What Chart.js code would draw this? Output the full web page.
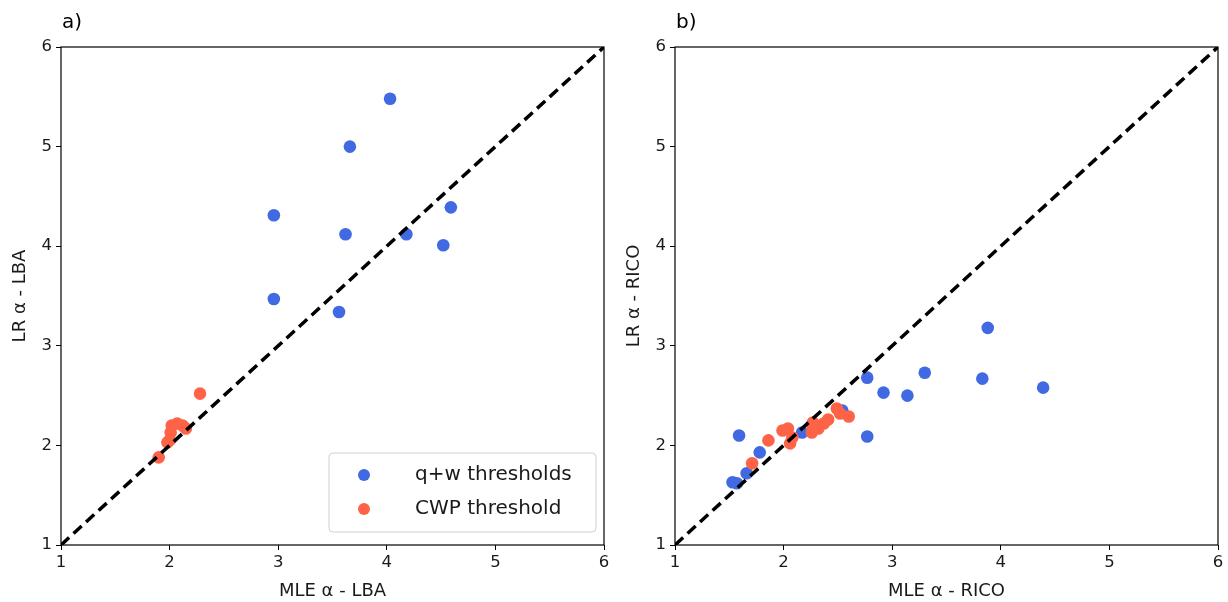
<!DOCTYPE html>
<html>
<head>
<meta charset="utf-8">
<script src="https://cdn.jsdelivr.net/npm/chart.js@4.4.1/dist/chart.umd.min.js"></script>
<style>
  html, body { margin: 0; padding: 0; background: #fff; }
  #wrap { width: 1228px; height: 602px; display: flex; }
  .box { position: relative; width: 614px; height: 602px; }
</style>
</head>
<body>
<div id="wrap">
  <div class="box"><canvas id="chartA"></canvas></div>
  <div class="box"><canvas id="chartB"></canvas></div>
</div>
<script>
// panel a) LBA
const lbaQwX = [4.03, 3.66, 2.96, 3.62, 4.18, 4.59, 4.52, 2.96, 3.56];
const lbaQwY = [5.48, 5.00, 4.31, 4.12, 4.12, 4.39, 4.01, 3.47, 3.34];
const lbaCwpX = [2.28, 2.07, 2.02, 2.12, 2.15, 2.01, 2.00, 1.98, 1.90];
const lbaCwpY = [2.52, 2.22, 2.20, 2.20, 2.17, 2.13, 2.05, 2.03, 1.88];

// panel b) RICO
const ricoQwX = [3.88, 3.30, 3.83, 4.39, 2.77, 2.92, 3.14, 2.77, 1.59, 1.78, 2.17, 2.54, 1.66, 1.53, 1.57];
const ricoQwY = [3.18, 2.73, 2.67, 2.58, 2.68, 2.53, 2.50, 2.09, 2.10, 1.93, 2.13, 2.35, 1.72, 1.63, 1.62];
const ricoCwpX = [1.71, 1.86, 1.99, 2.04, 2.08, 2.06, 2.27, 2.26, 2.32, 2.37, 2.41, 2.49, 2.52, 2.60, 2.27];
const ricoCwpY = [1.82, 2.05, 2.15, 2.17, 2.08, 2.02, 2.23, 2.13, 2.17, 2.22, 2.26, 2.37, 2.32, 2.29, 2.18];

const axisTicks = [1, 2, 3, 4, 5, 6];
const seriesNames = ["q+w thresholds", "CWP threshold"];
const blue = "#4169e1";
const orange = "#ff6347";
const FONT = "'DejaVu Sans', sans-serif";

const toPoints = (xs, ys) => xs.map((x, i) => ({ x: x, y: ys[i] }));

// frame + panel letter + optional legend
const decor = {
  id: "decor",
  afterDraw(chart, args, opts) {
    const { ctx, chartArea: a } = chart;
    ctx.save();
    ctx.strokeStyle = "#000";
    ctx.lineWidth = 1.2;
    ctx.strokeRect(a.left, a.top, a.right - a.left, a.bottom - a.top);
    ctx.fillStyle = "#000";
    ctx.font = "20px " + FONT;
    ctx.textBaseline = "alphabetic";
    ctx.textAlign = "left";
    ctx.fillText(opts.letter, a.left + 1, 28);

    if (opts.legend) {
      const bx = a.left + 268, by = a.top + 406, bw = 267, bh = 79;
      ctx.fillStyle = "rgba(255,255,255,0.8)";
      ctx.strokeStyle = "#d0d0d0";
      ctx.lineWidth = 1;
      ctx.beginPath();
      ctx.roundRect(bx, by, bw, bh, 4);
      ctx.fill();
      ctx.stroke();
      const items = chart.data.datasets.filter(d => d.inLegend);
      items.sort((p, q) => seriesNames.indexOf(p.label) - seriesNames.indexOf(q.label));
      ctx.font = "20px " + FONT;
      ctx.textBaseline = "middle";
      items.forEach((d, i) => {
        const cy = by + 22 + i * 34;
        ctx.fillStyle = d.backgroundColor;
        ctx.beginPath();
        ctx.arc(bx + 35, cy, 6, 0, Math.PI * 2);
        ctx.fill();
        ctx.fillStyle = "#1a1a1a";
        ctx.fillText(d.label, bx + 86, cy);
      });
    }
    ctx.restore();
  }
};

function makeChart(id, letter, qwX, qwY, cwpX, cwpY, xTitle, yTitle, legend) {
  const ctx = document.getElementById(id).getContext("2d");
  return new Chart(ctx, {
    type: "scatter",
    data: {
      datasets: [
        {
          label: "1:1",
          data: [{ x: 1, y: 1 }, { x: 6, y: 6 }],
          showLine: true,
          borderColor: "#000",
          borderWidth: 3.5,
          borderDash: [11, 6],
          pointRadius: 0,
          order: 0
        },
        {
          label: seriesNames[1],
          inLegend: true,
          data: toPoints(cwpX, cwpY),
          backgroundColor: orange,
          borderWidth: 0,
          pointRadius: 6.3,
          order: 1
        },
        {
          label: seriesNames[0],
          inLegend: true,
          data: toPoints(qwX, qwY),
          backgroundColor: blue,
          borderWidth: 0,
          pointRadius: 6.3,
          order: 2
        }
      ]
    },
    options: {
      responsive: true,
      maintainAspectRatio: false,
      animation: false,
      layout: { padding: { top: 47, right: 10, left: 0, bottom: 0 } },
      plugins: {
        legend: { display: false },
        tooltip: { enabled: false },
        decor: { letter: letter, legend: legend }
      },
      scales: {
        x: {
          type: "linear",
          min: 1,
          max: 6,
          afterBuildTicks: s => { s.ticks = axisTicks.map(v => ({ value: v })); },
          afterFit: s => { s.height = 57; },
          grid: { drawOnChartArea: false, drawTicks: true, tickLength: 5, color: "#000", tickWidth: 1 },
          border: { display: false },
          ticks: { color: "#1a1a1a", font: { size: 16.5, family: FONT }, padding: 3 },
          title: { display: true, text: xTitle, color: "#1a1a1a", font: { size: 18, family: FONT }, padding: { top: 1, bottom: 0 } }
        },
        y: {
          type: "linear",
          min: 1,
          max: 6,
          afterBuildTicks: s => { s.ticks = axisTicks.map(v => ({ value: v })); },
          afterFit: s => { s.width = 61; },
          grid: { drawOnChartArea: false, drawTicks: true, tickLength: 5, color: "#000", tickWidth: 1 },
          border: { display: false },
          ticks: { color: "#1a1a1a", font: { size: 16.5, family: FONT }, padding: 4 },
          title: { display: true, text: yTitle, color: "#1a1a1a", font: { size: 18, family: FONT }, padding: { top: 10, bottom: 6 } }
        }
      }
    },
    plugins: [decor]
  });
}

makeChart("chartA", "a)", lbaQwX, lbaQwY, lbaCwpX, lbaCwpY, "MLE α - LBA", "LR α - LBA", true);
makeChart("chartB", "b)", ricoQwX, ricoQwY, ricoCwpX, ricoCwpY, "MLE α - RICO", "LR α - RICO", false);
</script>
</body>
</html>
